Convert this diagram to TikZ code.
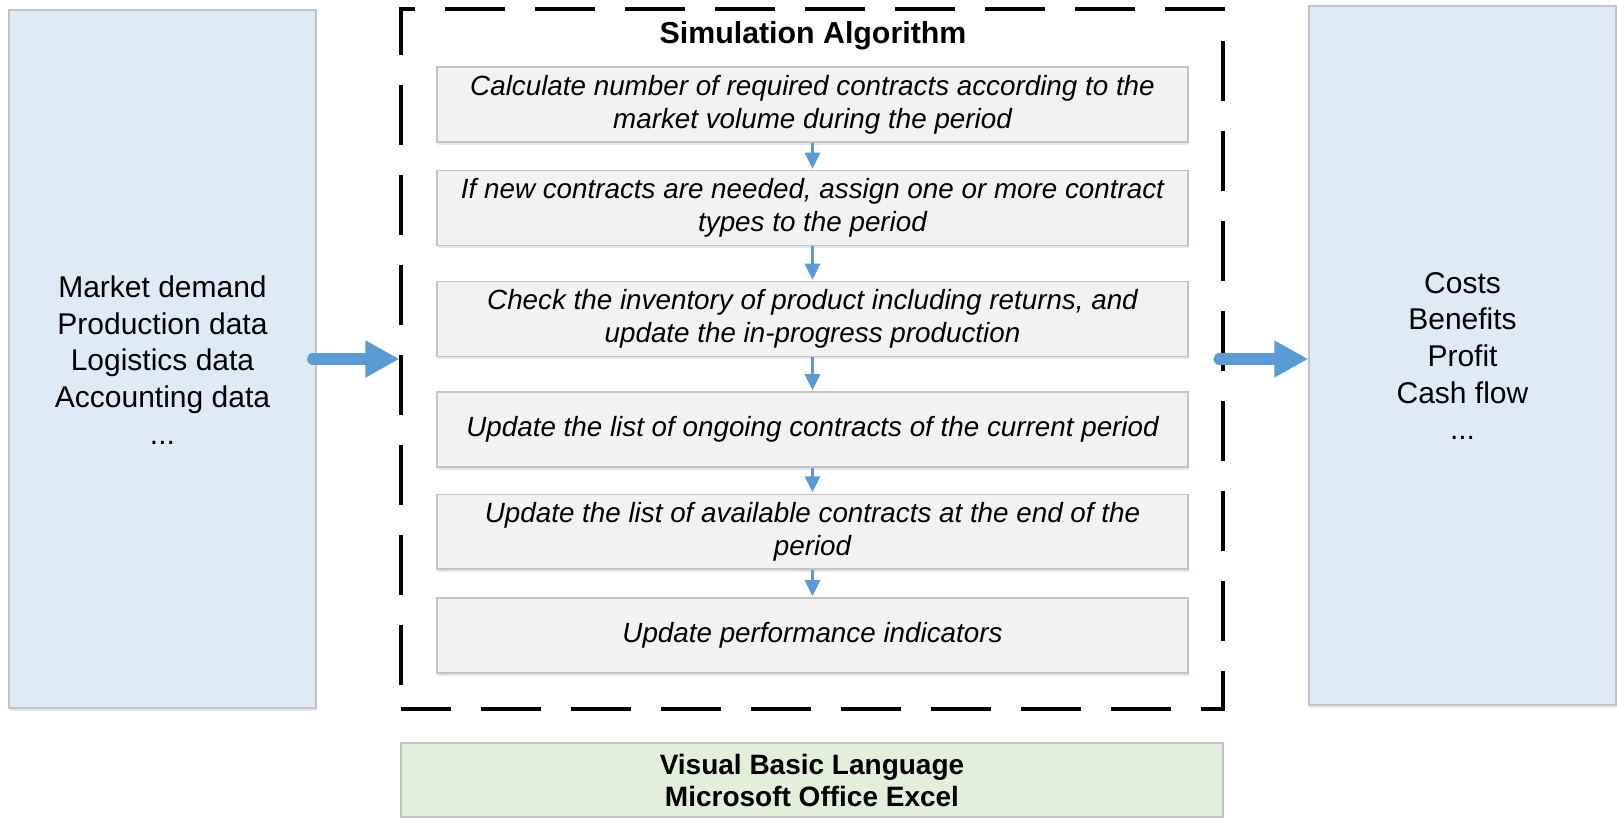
\documentclass[tikz,border=0pt]{standalone}
\usepackage{fontspec}
\setmainfont{Liberation Sans}
\usetikzlibrary{arrows.meta,shadows}

\definecolor{sidefill}{HTML}{DEEAF6}
\definecolor{stepfill}{HTML}{F2F2F2}
\definecolor{basefill}{HTML}{E2EFDA}
\definecolor{boxline}{HTML}{C3C3C3}
\definecolor{flowblue}{HTML}{5B9BD5}
\definecolor{glow}{HTML}{D6E4F3}

\tikzset{
  softshadow/.style={drop shadow={shadow xshift=0.8pt, shadow yshift=-2pt, fill=glow, opacity=0.8}},
  sidebox/.style={draw=boxline, line width=1.1pt, fill=sidefill, softshadow,
    minimum width=230.25pt, align=center, inner sep=0pt,
    font=\fontsize{22.5pt}{27.5pt}\selectfont},
  stepbox/.style={draw=boxline, line width=1.1pt, fill=stepfill, softshadow,
    minimum width=563.25pt, minimum height=56pt, align=center, inner sep=0pt,
    font=\fontsize{20.85pt}{24.75pt}\selectfont\itshape},
  basebox/.style={draw=boxline, line width=1.1pt, fill=basefill,
    minimum width=616.5pt, minimum height=55.5pt, align=center, inner sep=0pt,
    font=\fontsize{21pt}{24pt}\selectfont\bfseries},
  frame/.style={draw=black, line width=2.3pt, dash pattern=on 45pt off 22.5pt,
    dash phase=7.5pt, minimum width=616.5pt, minimum height=525pt, inner sep=0pt},
  bigflow/.style={draw=flowblue, line width=8.5pt, line cap=round,
    -{Triangle[width=26pt, length=25.5pt]}},
  smallflow/.style={draw=flowblue, line width=1.6pt,
    -{Triangle[width=11.5pt, length=12pt]}},
}

\begin{document}
\begin{tikzpicture}[x=0.75pt, y=-0.75pt]
\useasboundingbox (0,0) rectangle (1617,818);

% inputs and outputs
\node[sidebox, minimum height=523.5pt] (inputs) at (162.5,359) {};
\node[font=\fontsize{22.5pt}{27.5pt}\selectfont, align=center] (intext) at (162.5,360)
  {Market demand\\Production data\\Logistics data\\Accounting data\\...};
\node[sidebox, minimum height=524.25pt] (outputs) at (1462.5,355.5) {};
\node[font=\fontsize{22.5pt}{27.5pt}\selectfont, align=center] (outtext) at (1462.5,356)
  {Costs\\Benefits\\Profit\\Cash flow\\...};

% simulation frame
\node[frame] (algo) at (812,359) {};
\node[font=\fontsize{22.75pt}{27pt}\selectfont\bfseries] (title) at (813,36) {Simulation Algorithm};

% algorithm steps
\node[stepbox] (s1) at (812.5,104.5)
  {Calculate number of required contracts according to the\\market volume during the period};
\node[stepbox] (s2) at (812.5,208)
  {If new contracts are needed, assign one or more contract\\types to the period};
\node[stepbox] (s3) at (812.5,319)
  {Check the inventory of product including returns, and\\update the in-progress production};
\node[stepbox] (s4) at (812.5,429.5)
  {Update the list of ongoing contracts of the current period};
\node[stepbox] (s5) at (812.5,531.7)
  {Update the list of available contracts at the end of the\\period};
\node[stepbox] (s6) at (812.5,635.5)
  {Update performance indicators};

\foreach \a/\b in {s1/s2, s2/s3, s3/s4, s4/s5, s5/s6}
  \draw[smallflow] (\a.south) -- ([yshift=1pt]\b.north);

% platform
\node[basebox] (platform) at (812,780)
  {Visual Basic Language\\Microsoft Office Excel};

% data flow
\draw[bigflow] ([xshift=-3pt]inputs.east) -- (algo.west);
\draw[bigflow] ([xshift=-4pt]algo.east) -- (outputs.west |- algo.east);
\end{tikzpicture}
\end{document}
